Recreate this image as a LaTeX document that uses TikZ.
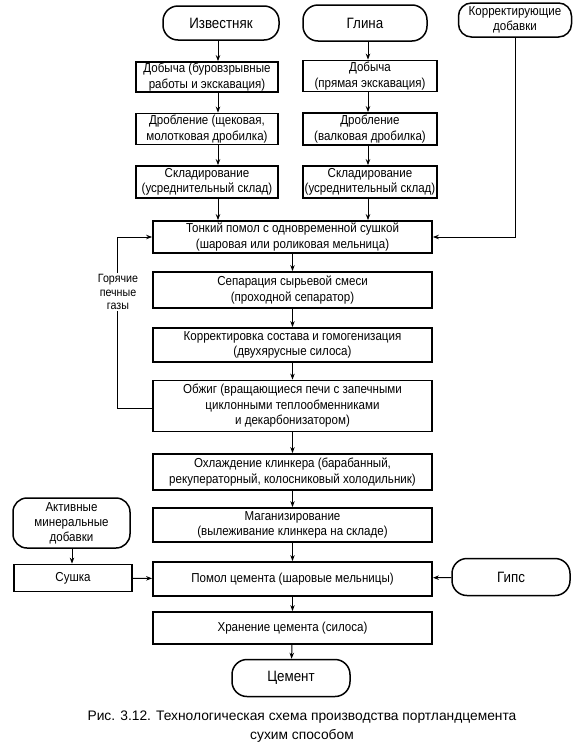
\documentclass[tikz,border=0pt]{standalone}
\usepackage{fontspec}
\setmainfont{Liberation Sans}
\newfontfamily\cfont{Liberation Sans}[FakeStretch=0.89]
\usetikzlibrary{arrows.meta}
\begin{document}
\begin{tikzpicture}[x=1pt,y=-1pt,
  box/.style={draw,line width=1.8pt,align=center,inner sep=1pt,font=\cfont\fontsize{13}{15.5}\selectfont},
  term/.style={draw,line width=1.5pt,rounded corners=15pt,align=center,inner sep=1pt,font=\cfont\fontsize{15}{17}\selectfont},
  termsm/.style={term,font=\cfont\fontsize{13}{15}\selectfont},
  arr/.style={line width=1pt,-{Stealth[length=6pt,width=4.5pt]}},
  ln/.style={line width=1pt}]
\useasboundingbox (0,0) rectangle (580,750);
% sources
\node[term,minimum width=116pt,minimum height=34pt] (izv) at (221,23) {Известняк};
\node[term,minimum width=124pt,minimum height=36pt] (gli) at (365,23) {Глина};
\node[termsm,minimum width=113pt,minimum height=34pt,rounded corners=13pt] (kd) at (515,20) {Корректирующие\\добавки};
% left column
\node[box,minimum width=142pt,minimum height=30pt] (dob1) at (207,77) {Добыча (буровзрывные\\работы и экскавация)};
\node[box,minimum width=142pt,minimum height=31pt] (drob1) at (207,129) {Дробление (щековая,\\молотковая дробилка)};
\node[box,minimum width=142pt,minimum height=32pt] (skl1) at (207,182) {Складирование\\(усреднительный склад)};
% right column
\node[box,minimum width=134pt,minimum height=31pt] (dob2) at (370,76) {Добыча\\(прямая экскавация)};
\node[box,minimum width=134pt,minimum height=32pt] (drob2) at (370,129) {Дробление\\(валковая дробилка)};
\node[box,minimum width=134pt,minimum height=32pt] (skl2) at (370,182) {Складирование\\(усреднительный склад)};
% main chain
\node[box,minimum width=279pt,minimum height=32pt] (ton) at (292.5,237) {Тонкий помол с одновременной сушкой\\(шаровая или роликовая мельница)};
\node[box,minimum width=279pt,minimum height=36pt] (sep) at (292.5,290) {Сепарация сырьевой смеси\\(проходной сепаратор)};
\node[box,minimum width=279pt,minimum height=34pt] (kor) at (292.5,345) {Корректировка состава и гомогенизация\\(двухярусные силоса)};
\node[box,minimum width=279pt,minimum height=51pt] (obz) at (292.5,406) {Обжиг (вращающиеся печи с запечными\\циклонными теплообменниками\\и декарбонизатором)};
\node[box,minimum width=279pt,minimum height=36pt] (ohl) at (292.5,472) {Охлаждение клинкера (барабанный,\\рекуператорный, колосниковый холодильник)};
\node[box,minimum width=279pt,minimum height=34pt] (mag) at (292.5,525) {Маганизирование\\(вылеживание клинкера на складе)};
\node[box,minimum width=279pt,minimum height=34pt] (pom) at (292.5,579) {Помол цемента (шаровые мельницы)};
\node[box,minimum width=279pt,minimum height=32pt] (hra) at (292.5,628) {Хранение цемента (силоса)};
\node[term,minimum width=118pt,minimum height=37pt] (cem) at (291,678) {Цемент};
% side inputs
\node[termsm,minimum width=117pt,minimum height=50pt,rounded corners=14pt] (akt) at (71.5,523) {Активные\\минеральные\\добавки};
\node[box,minimum width=118pt,minimum height=27pt] (sus) at (73,578) {Сушка};
\node[term,minimum width=118pt,minimum height=37pt] (gip) at (511,577) {Гипс};
% connectors left column
\draw[arr] (izv.south -| 218,0) -- (dob1.north -| 218,0);
\draw[arr] (dob1.south -| 218,0) -- (drob1.north -| 218,0);
\draw[arr] (drob1.south -| 218,0) -- (skl1.north -| 218,0);
\draw[arr] (skl1.south -| 218,0) -- (ton.north -| 218,0);
% right column
\draw[arr] (gli.south -| 368,0) -- (dob2.north -| 368,0);
\draw[arr] (dob2.south -| 368,0) -- (drob2.north -| 368,0);
\draw[arr] (drob2.south -| 368,0) -- (skl2.north -| 368,0);
\draw[arr] (skl2.south -| 368,0) -- (ton.north -| 368,0);
% corrective additives
\draw[arr] (kd.south) |- (ton.east);
% main chain
\draw[arr] (ton) -- (sep);
\draw[arr] (sep) -- (kor);
\draw[arr] (kor) -- (obz);
\draw[arr] (obz) -- (ohl);
\draw[arr] (ohl) -- (mag);
\draw[arr] (mag) -- (pom);
\draw[arr] (pom) -- (hra);
\draw[arr] (hra) -- (cem);
% hot gases
\coordinate (gb) at (117,408);
\draw[arr] (obz.west |- gb) -- (gb) |- (ton.west);
\node[fill=white,align=center,inner sep=1.5pt,font=\cfont\fontsize{12}{13.5}\selectfont] (gas) at (118,292) {Горячие\\печные\\газы};
% side inputs
\draw[arr] (akt.south -| 72,0) -- (sus.north -| 72,0);
\draw[arr] (sus) -- (pom);
\draw[arr] (gip) -- (pom);
% caption
\node[font=\fontsize{13.8}{19}\selectfont,align=center] (cap) at (302,727) {Рис. 3.12. Технологическая схема производства портландцемента\\сухим способом};
\end{tikzpicture}
\end{document}
